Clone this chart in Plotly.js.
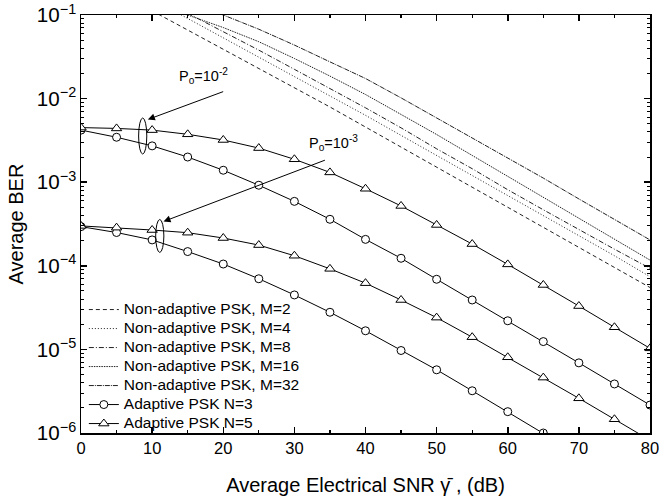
<!DOCTYPE html>
<html><head><meta charset="utf-8">
<script src="https://cdn.plot.ly/plotly-3.0.1.min.js"></script>
<style>body{margin:0;background:#fff}#c{width:659px;height:500px}</style>
</head><body><div id="c"></div>
<script>
const snr = [0,5,10,15,20,25,30,35,40,45,50,55,60,65,70,75,80];
const adN3_p2 = [4.2e-3,3.45e-3,2.72e-3,2.0e-3,1.39e-3,9.2e-4,5.9e-4,3.6e-4,2.07e-4,1.23e-4,6.9e-5,3.9e-5,2.2e-5,1.24e-5,6.9e-6,3.86e-6,2.16e-6];
const adN5_p2 = [4.5e-3,4.4e-3,4.2e-3,3.74e-3,3.2e-3,2.56e-3,1.88e-3,1.31e-3,8.35e-4,5.2e-4,3.08e-4,1.82e-4,1.04e-4,5.9e-5,3.3e-5,1.84e-5,1.03e-5];
const adN3_p3 = [2.94e-4,2.5e-4,2.04e-4,1.48e-4,1.05e-4,7.0e-5,4.48e-5,2.78e-5,1.67e-5,9.7e-6,5.7e-6,3.2e-6,1.8e-6,1.0e-6,5.6e-7,3.1e-7,1.7e-7];
const adN5_p3 = [3.0e-4,2.86e-4,2.68e-4,2.49e-4,2.15e-4,1.77e-4,1.32e-4,9.2e-5,6.2e-5,3.9e-5,2.4e-5,1.4e-5,8.05e-6,4.6e-6,2.6e-6,1.46e-6,8.2e-7];

const snrNA = [10,15,20,25,30,35,40,45,50,55,60,65,70,75,80];
const naM2  = [0.1122,0.0661,0.0389,0.0229,0.0135,0.00794,0.00457,0.00263,0.00151,8.71e-4,5.01e-4,2.88e-4,1.66e-4,9.55e-5,5.50e-5];
const naM4  = [0.155,0.0912,0.0537,0.0316,0.0186,0.01096,0.00631,0.00363,0.00209,0.00120,6.92e-4,3.98e-4,2.29e-4,1.32e-4,7.41e-5];
const naM8  = [0.174,0.105,0.0631,0.0380,0.0224,0.0132,0.00776,0.00447,0.00251,0.00145,8.13e-4,4.68e-4,2.69e-4,1.58e-4,9.33e-5];
const naM16 = [0.141,0.100,0.0708,0.0479,0.0302,0.0186,0.0112,0.00646,0.00372,0.00209,0.00117,6.61e-4,3.72e-4,2.09e-4,1.17e-4];
const naM32 = [0.200,0.141,0.100,0.0676,0.0437,0.0275,0.0174,0.0102,0.00589,0.00339,0.00195,0.00112,6.31e-4,3.55e-4,2.04e-4];

const names = ["Non-adaptive PSK, M=2","Non-adaptive PSK, M=4","Non-adaptive PSK, M=8","Non-adaptive PSK, M=16","Non-adaptive PSK, M=32","Adaptive PSK N=3","Adaptive PSK N=5"];
const lg = (s)=>'<span style="font-size:15.5px">'+s+'</span>';

const naSeries = [naM2, naM4, naM8, naM16, naM32];
const dashes = ["4px,3px","1px,2px","5px,2px,1px,2px","1.5px,1px","5px,1px,1px,1px"];
const traces = [];
naSeries.forEach((s,i)=>{
  traces.push({x:snrNA, y:s, type:'scatter', mode:'lines', name:lg(names[i]),
    line:{color:'#222', width:1, dash:dashes[i]}});
});
const mk = (sym, sz)=>({symbol:sym, size:sz, color:'#fff', line:{color:'#000', width:1}});
traces.push({x:snr, y:adN3_p2, type:'scatter', mode:'lines+markers', name:lg(names[5]), legendgroup:'n3',
  line:{color:'#000', width:1}, marker:mk('circle', 8)});
traces.push({x:snr, y:adN5_p2, type:'scatter', mode:'lines+markers', name:lg(names[6]), legendgroup:'n5',
  line:{color:'#000', width:1}, marker:mk('triangle-up', 9)});
traces.push({x:snr, y:adN3_p3, type:'scatter', mode:'lines+markers', name:lg(names[5]), legendgroup:'n3', showlegend:false,
  line:{color:'#000', width:1}, marker:mk('circle', 8)});
traces.push({x:snr, y:adN5_p3, type:'scatter', mode:'lines+markers', name:lg(names[6]), legendgroup:'n5', showlegend:false,
  line:{color:'#000', width:1}, marker:mk('triangle-up', 9)});

const font = {family:'Liberation Sans, Arial, sans-serif', color:'#000'};
const layout = {
  width:659, height:500,
  margin:{l:81, r:9, t:15, b:67},
  paper_bgcolor:'#fff', plot_bgcolor:'#fff',
  font:Object.assign({size:16}, font),
  showlegend:true,
  legend:{x:0.005, y:0.33, xanchor:'left', yanchor:'top', bgcolor:'rgba(0,0,0,0)',
    font:Object.assign({size:12}, font), tracegroupgap:0, itemwidth:30},
  xaxis:{range:[0,80], dtick:10, showgrid:false, zeroline:false, showline:true, linecolor:'#000', linewidth:1.5,
    mirror:'allticks', ticks:'inside', ticklen:6, tickwidth:1.5, tickcolor:'#000', ticklabeloverflow:'allow',
    minor:{dtick:5, ticks:'inside', ticklen:3, tickwidth:1.2, tickcolor:'#000'},
    tickfont:Object.assign({size:16.5}, font),
    title:{text:'Average Electrical SNR γ\u0304 , (dB)', font:Object.assign({size:20}, font), standoff:21}},
  yaxis:{type:'log', range:[-6,-1], dtick:1, exponentformat:'power', showgrid:false, zeroline:false,
    showline:true, linecolor:'#000', linewidth:1.5, mirror:'allticks', ticks:'inside', ticklen:6, tickwidth:1.5, tickcolor:'#000',
    minor:{dtick:'D1', ticks:'inside', ticklen:3, tickwidth:1, tickcolor:'#000'},
    tickfont:Object.assign({size:16.5}, font),
    title:{text:'Average BER', font:Object.assign({size:20}, font), standoff:8}},
  shapes:[
    {type:'circle', xref:'x', yref:'paper', x0:8.1, x1:9.25, y0:0.6674, y1:0.7536, line:{color:'#000', width:1}},
    {type:'circle', xref:'x', yref:'paper', x0:10.5, x1:11.65, y0:0.432, y1:0.5108, line:{color:'#000', width:1}}
  ],
  annotations:[
    {x:9.4, y:-2.25, xref:'x', yref:'y', ax:20.2, ay:-1.91, axref:'x', ayref:'y', showarrow:true,
      arrowhead:2, arrowsize:1.4, arrowwidth:1, arrowcolor:'#000', text:''},
    {x:17.2, y:-1.73, xref:'x', yref:'y', showarrow:false,
      text:'P<sub>o</sub>=10<sup>-2</sup>', font:Object.assign({size:14.5}, font)},
    {x:11.6, y:-3.47, xref:'x', yref:'y', ax:34.5, ay:-2.73, axref:'x', ayref:'y', showarrow:true,
      arrowhead:2, arrowsize:1.4, arrowwidth:1, arrowcolor:'#000', text:''},
    {x:35.5, y:-2.53, xref:'x', yref:'y', showarrow:false,
      text:'P<sub>o</sub>=10<sup>-3</sup>', font:Object.assign({size:14.5}, font)}
  ]
};
Plotly.newPlot('c', traces, layout, {displayModeBar:false, staticPlot:true});
</script></body></html>
